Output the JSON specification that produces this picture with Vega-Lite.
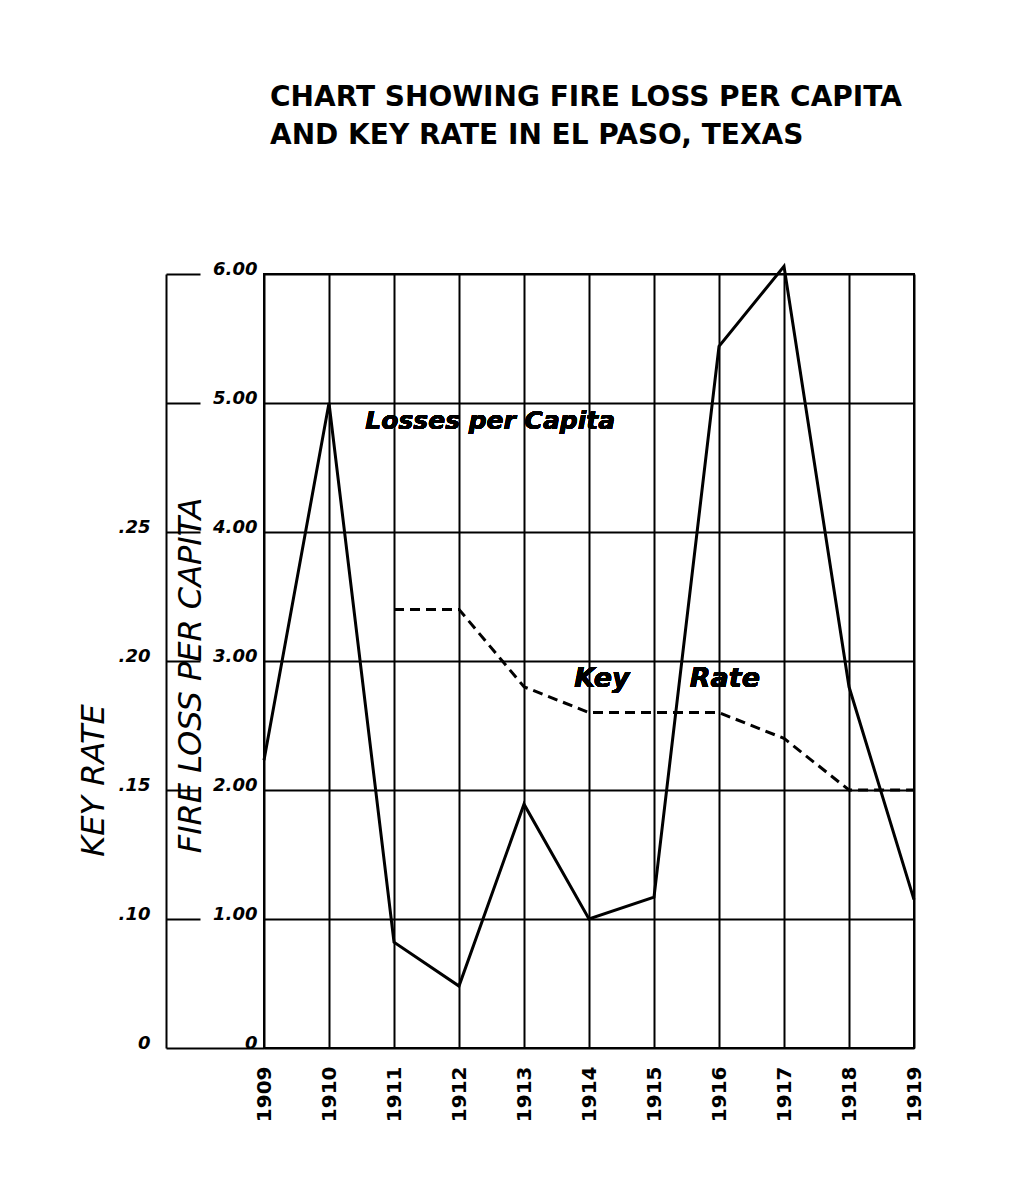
{
  "$schema": "https://vega.github.io/schema/vega-lite/v6.json",
  "width": 650,
  "height": 774,
  "autosize": "none",
  "padding": {"left": 264, "top": 274, "right": 122, "bottom": 129},
  "background": "white",
  "title": {
    "text": ["CHART SHOWING FIRE LOSS PER CAPITA", "AND KEY RATE IN EL PASO, TEXAS"],
    "anchor": "start",
    "frame": "group",
    "font": "DejaVu Sans",
    "fontSize": 28,
    "fontWeight": "bold",
    "lineHeight": 38,
    "offset": 110,
    "dx": 6,
    "color": "black"
  },
  "data": {
    "values": [
      {"year": 1909, "loss": 2.23, "keyrate": null},
      {"year": 1910, "loss": 5.0, "keyrate": null},
      {"year": 1911, "loss": 0.82, "keyrate": 0.22},
      {"year": 1912, "loss": 0.48, "keyrate": 0.22},
      {"year": 1913, "loss": 1.89, "keyrate": 0.19},
      {"year": 1914, "loss": 1.0, "keyrate": 0.18},
      {"year": 1915, "loss": 1.17, "keyrate": 0.18},
      {"year": 1916, "loss": 5.44, "keyrate": 0.18},
      {"year": 1917, "loss": 6.06, "keyrate": 0.17},
      {"year": 1918, "loss": 2.8, "keyrate": 0.15},
      {"year": 1919, "loss": 1.15, "keyrate": 0.15}
    ]
  },
  "layer": [
    {
      "layer": [
        {
          "mark": {"type": "line", "color": "black", "strokeWidth": 3, "clip": false},
          "encoding": {
            "x": {
              "field": "year",
              "type": "quantitative",
              "scale": {"domain": [1909, 1919], "nice": false, "zero": false},
              "axis": {
                "values": [1909, 1910, 1911, 1912, 1913, 1914, 1915, 1916, 1917, 1918, 1919],
                "format": "d",
                "labelAngle": -90,
                "labelPadding": 18,
                "labelFontSize": 20,
                "labelFontWeight": "bold",
                "labelColor": "black",
                "labelFont": "DejaVu Sans",
                "ticks": false,
                "domain": false,
                "grid": true,
                "gridColor": "black",
                "gridWidth": 2,
                "gridOpacity": 1,
                "title": null
              }
            },
            "y": {
              "field": "loss",
              "type": "quantitative",
              "scale": {"domain": [0, 6], "nice": false},
              "axis": {
                "values": [0, 1, 2, 3, 4, 5, 6],
                "labelExpr": "datum.value == 0 ? '0' : format(datum.value, '.2f')",
                "domain": false,
                "ticks": false,
                "grid": true,
                "gridColor": "black",
                "gridWidth": 2,
                "gridOpacity": 1,
                "labelPadding": 7,
                "labelBaseline": "alphabetic",
                "labelFontSize": 18,
                "labelFontWeight": "bold",
                "labelFontStyle": "italic",
                "labelColor": "black",
                "labelFont": "DejaVu Sans",
                "title": "FIRE LOSS PER CAPITA",
                "titleFont": "DejaVu Sans",
                "titleFontSize": 32,
                "titleFontStyle": "italic",
                "titleFontWeight": "normal",
                "titleColor": "black",
                "titlePadding": 5,
                "titleY": 401
              }
            }
          }
        },
        {
          "mark": {"type": "text", "font": "DejaVu Sans", "fontSize": 25, "fontStyle": "italic", "fontWeight": "bold", "color": "black", "baseline": "alphabetic", "align": "center", "text": "Losses per Capita"},
          "encoding": {
            "x": {"datum": 1912.48, "type": "quantitative"},
            "y": {"datum": 4.8, "type": "quantitative"}
          }
        },
        {
          "mark": {"type": "text", "font": "DejaVu Sans", "fontSize": 27, "fontStyle": "italic", "fontWeight": "bold", "color": "black", "baseline": "alphabetic", "align": "center", "text": "Key"},
          "encoding": {
            "x": {"datum": 1914.2, "type": "quantitative"},
            "y": {"datum": 2.8, "type": "quantitative"}
          }
        },
        {
          "mark": {"type": "text", "font": "DejaVu Sans", "fontSize": 27, "fontStyle": "italic", "fontWeight": "bold", "color": "black", "baseline": "alphabetic", "align": "center", "text": "Rate"},
          "encoding": {
            "x": {"datum": 1916.09, "type": "quantitative"},
            "y": {"datum": 2.8, "type": "quantitative"}
          }
        }
      ]
    },
    {
      "mark": {"type": "line", "color": "black", "strokeWidth": 3, "strokeDash": [10, 6]},
      "encoding": {
        "x": {"field": "year", "type": "quantitative"},
        "y": {
          "field": "keyrate",
          "type": "quantitative",
          "scale": {"domain": [0.05, 0.35], "nice": false, "zero": false},
          "axis": {
            "orient": "left",
            "offset": 98,
            "values": [0.05, 0.1, 0.15, 0.2, 0.25, 0.3, 0.35],
            "labelExpr": "datum.value < 0.06 ? '0' : datum.value > 0.26 ? '' : replace(format(datum.value, '.2f'), '0.', '.')",
            "domain": true,
            "domainColor": "black",
            "domainWidth": 2,
            "ticks": true,
            "tickColor": "black",
            "tickWidth": 2,
            "tickSize": {"condition": {"test": "datum.value < 0.06", "value": -98}, "value": -34},
            "labelPadding": {"condition": {"test": "datum.value < 0.06", "value": 114}, "value": 50},
            "labelBaseline": "alphabetic",
            "labelFontSize": 18,
            "labelFontWeight": "bold",
            "labelFontStyle": "italic",
            "labelColor": "black",
            "labelFont": "DejaVu Sans",
            "grid": false,
            "title": "KEY RATE",
            "titleFont": "DejaVu Sans",
            "titleFontSize": 32,
            "titleFontStyle": "italic",
            "titleFontWeight": "normal",
            "titleColor": "black",
            "titlePadding": 8,
            "titleY": 506
          }
        }
      }
    }
  ],
  "resolve": {"scale": {"y": "independent"}},
  "config": {
    "view": {"stroke": "black", "strokeWidth": 2},
    "font": "DejaVu Sans"
  }
}
